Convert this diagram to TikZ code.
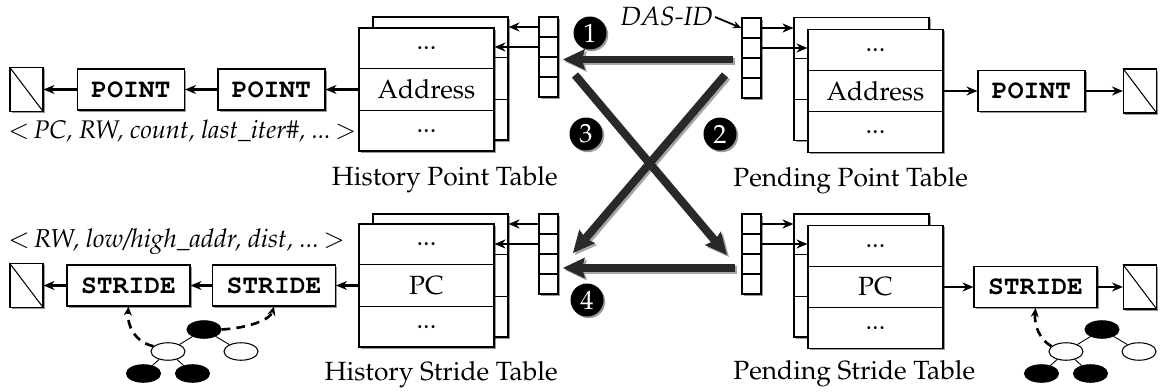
\documentclass[tikz,border=0pt]{standalone}
\usepackage[T1]{fontenc}
\usepackage{mathpazo}
\usepackage{courier}
\usetikzlibrary{arrows.meta,shapes.geometric,shadows,calc}

\tikzset{
  base/.style={line width=0.6pt},
  shad/.style={drop shadow={shadow xshift=0.035cm, shadow yshift=-0.035cm, opacity=0.4, fill=black}},
  tframe/.style={draw, fill=white, line width=0.6pt, minimum width=2.7cm, minimum height=2.46cm, inner sep=0pt, shad},
  cellbox/.style={draw, fill=white, line width=0.6pt, minimum width=0.38cm, minimum height=0.4cm, inner sep=0pt, shad},
  pointbox/.style={draw, fill=white, line width=0.6pt, minimum width=2.14cm, minimum height=0.82cm, inner sep=0pt, font=\fontsize{15}{18}\selectfont\ttfamily\bfseries, shad},
  stridebox/.style={pointbox, minimum width=2.46cm},
  nullbox/.style={draw, fill=white, line width=0.6pt, minimum width=0.66cm, minimum height=0.88cm, inner sep=0pt, shad},
  ptr/.style={line width=1.25pt, -{Stealth[length=0.22cm,width=0.18cm]}},
  bigarrow/.style={line width=0.16cm, draw=black!84, -{Stealth[length=0.44cm,width=0.42cm,inset=0.06cm,line width=0pt]}},
  bigshadow/.style={line width=0.16cm, draw=black!35, -{Stealth[length=0.44cm,width=0.42cm,inset=0.06cm,line width=0pt]}, transform canvas={shift={(0.04cm,-0.04cm)}}},
  numcirc/.style={circle, fill=black, text=white, minimum size=0.66cm, inner sep=0pt, font=\fontsize{15}{18}\selectfont, shad},
  bnode/.style={ellipse, draw, fill=black, minimum width=0.68cm, minimum height=0.35cm, inner sep=0pt, line width=0.6pt},
  wnode/.style={bnode, fill=white},
  treeedge/.style={line width=0.5pt},
  dasharr/.style={line width=1.5pt, dash pattern=on 5pt off 3.5pt, -{Stealth[length=0.18cm,width=0.16cm]}},
  lbl/.style={font=\fontsize{15}{18}\selectfont, inner sep=0pt},
}

\newcommand{\mktable}[4]{%
  \node[tframe] (#1b) at #2 {};
  \draw[base] ($(#1b.north west)!1/3!(#1b.south west)$) -- ($(#1b.north east)!1/3!(#1b.south east)$)
              ($(#1b.north west)!2/3!(#1b.south west)$) -- ($(#1b.north east)!2/3!(#1b.south east)$);
  \node[tframe] (#1f) at #3 {};
  \draw[base] ($(#1f.north west)!1/3!(#1f.south west)$) -- ($(#1f.north east)!1/3!(#1f.south east)$)
              ($(#1f.north west)!2/3!(#1f.south west)$) -- ($(#1f.north east)!2/3!(#1f.south east)$);
  \node[lbl] (#1t1) at ($(#1f.north)!1/6!(#1f.south)$) {...};
  \node[lbl] (#1t2) at (#1f.center) {#4};
  \node[lbl] (#1t3) at ($(#1f.north)!5/6!(#1f.south)$) {...};
}
\newcommand{\mkarray}[3]{%
  \node[cellbox] (#1a1) at (#2,#3+10) {};
  \node[cellbox] (#1a2) at (#2,#3+30) {};
  \node[cellbox] (#1a3) at (#2,#3+50) {};
  \node[cellbox] (#1a4) at (#2,#3+70) {};
}
\newcommand{\mktree}[2]{%
  \node[bnode] (#1r) at (204+#2,329.5) {};
  \node[wnode] (#1l) at (168+#2,351.5) {};
  \node[wnode] (#1rr) at (241+#2,351.5) {};
  \node[bnode] (#1g1) at (143.5+#2,373.5) {};
  \node[bnode] (#1g2) at (192.5+#2,373.5) {};
  \draw[treeedge] (#1r) -- (#1l) (#1r) -- (#1rr) (#1l) -- (#1g1) (#1l) -- (#1g2);
}

\begin{document}
\begin{tikzpicture}[x=0.02cm,y=-0.02cm]
\path[use as bounding box] (0,0) rectangle (1160,392);

% ---------- tables ----------
\mktable{hp}{(440.5,78.5)}{(426.5,89.5)}{Address}
\mktable{pp}{(861.5,79)}{(875.5,91)}{Address}
\mktable{hs}{(440.5,275.5)}{(426.5,285.5)}{PC}
\mktable{ps}{(861.5,275.5)}{(875.5,287)}{PC}

% ---------- index arrays ----------
\mkarray{hp}{548.5}{17}
\mkarray{pp}{751.5}{18}
\mkarray{hs}{548.5}{214}
\mkarray{ps}{751.5}{214}

% ---------- record boxes ----------
\node[nullbox] (hpn) at (26.5,89.5) {};
\draw[base] (hpn.north west) -- (hpn.south east);
\node[pointbox] (hp1) at (131,89.5) {POINT};
\node[pointbox] (hp2) at (271.5,89.5) {POINT};

\node[pointbox] (ppr) at (1031.5,91) {POINT};
\node[nullbox] (ppn) at (1140,91) {};
\draw[base] (ppn.north west) -- (ppn.south east);

\node[nullbox] (hsn) at (26.5,285.5) {};
\draw[base] (hsn.north west) -- (hsn.south east);
\node[stridebox] (hs1) at (128.5,285.5) {STRIDE};
\node[stridebox] (hs2) at (274,285.5) {STRIDE};

\node[stridebox] (psr) at (1035.5,287) {STRIDE};
\node[nullbox] (psn) at (1140,287) {};
\draw[base] (psn.north west) -- (psn.south east);

% ---------- pointer arrows ----------
\draw[ptr] (hpa1.west) -- (hpa1.west -| hpb.east);
\draw[ptr] (hpa2.west) -- (hpa2.west -| hpf.east);
\draw[ptr] (hpf.west) -- (hp2.east);
\draw[ptr] (hp2.west) -- (hp1.east);
\draw[ptr] (hp1.west) -- (hpn.east);

\draw[ptr] (ppa1.east) -- (ppa1.east -| ppb.west);
\draw[ptr] (ppa2.east) -- (ppa2.east -| ppf.west);
\draw[ptr] (ppf.east) -- (ppr.west);
\draw[ptr] (ppr.east) -- (ppn.west);

\draw[ptr] (hsa1.west) -- (hsa1.west -| hsb.east);
\draw[ptr] (hsa2.west) -- (hsa2.west -| hsf.east);
\draw[ptr] (hsf.west) -- (hs2.east);
\draw[ptr] (hs2.west) -- (hs1.east);
\draw[ptr] (hs1.west) -- (hsn.east);

\draw[ptr] (psa1.east) -- (psa1.east -| psb.west);
\draw[ptr] (psa2.east) -- (psa2.east -| psf.west);
\draw[ptr] (psf.east) -- (psr.west);
\draw[ptr] (psr.east) -- (psn.west);

% ---------- DAS-ID ----------
\node[lbl, anchor=base east, inner sep=1pt] (das) at (715,26) {\textit{DAS-ID}};
\draw[line width=1pt, -{Stealth[length=0.17cm,width=0.14cm]}] (das.east) -- (ppa1.west);

% ---------- labels ----------
\node[lbl, anchor=base east] (hpl) at (558,185) {History Point Table};
\node[lbl, anchor=base west] (ppl) at (733,186) {Pending Point Table};
\node[lbl, anchor=base east] (hsl) at (558,380) {History Stride Table};
\node[lbl, anchor=base west] (psl) at (733,379) {Pending Stride Table};
\node[lbl, anchor=base west, font=\fontsize{14.5}{17}\selectfont] (patt) at (8,138) {$<$\,\textit{PC, RW, count, last\_iter\#, ...}\,$>$};
\node[lbl, anchor=base west, font=\fontsize{14.7}{17}\selectfont] (satt) at (8,247) {$<$\,\textit{RW, low/high\_addr, dist, ...}\,$>$};

% ---------- big arrows ----------
\coordinate (a1s) at (733,59.5); \coordinate (a1e) at (563,59.5);
\coordinate (a2s) at (575,75);   \coordinate (a2e) at (727,255);
\coordinate (a3s) at (725,75);   \coordinate (a3e) at (573,253);
\coordinate (a4s) at (735,268);  \coordinate (a4e) at (563,268);
\draw[bigshadow] (a1s) -- (a1e);
\draw[bigshadow] (a2s) -- (a2e);
\draw[bigshadow] (a3s) -- (a3e);
\draw[bigshadow] (a4s) -- (a4e);
\draw[bigarrow] (a1s) -- (a1e);
\draw[bigarrow] (a2s) -- (a2e);
\draw[bigarrow] (a3s) -- (a3e);
\draw[bigarrow] (a4s) -- (a4e);

\node[numcirc] (c1) at (590,33) {1};
\node[numcirc] (c2) at (720,134) {2};
\node[numcirc] (c3) at (586,134) {3};
\node[numcirc] (c4) at (587,300) {4};

% ---------- trees ----------
\mktree{tl}{0}
\mktree{tr}{898}
\draw[dasharr] (tll.160) .. controls (135,342) and (127,326) .. (hs1.south);
\draw[dasharr] (tlr.east) .. controls (248,328) and (270,320) .. (hs2.south);
\draw[dasharr] (trl.160) .. controls (1040,340) and (1034,326) .. (psr.south);
\end{tikzpicture}
\end{document}
